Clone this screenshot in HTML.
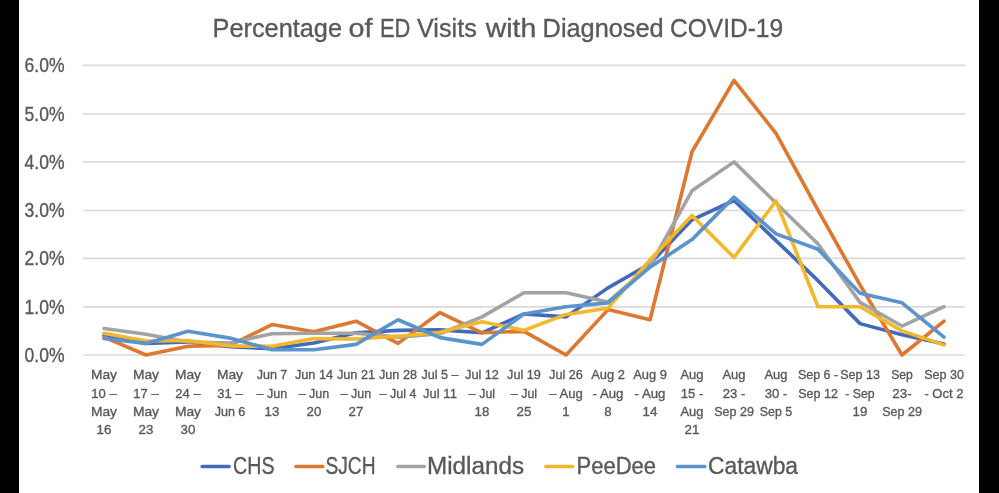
<!DOCTYPE html><html><head><meta charset="utf-8"><style>html,body{margin:0;padding:0;background:#fff;}svg{display:block;will-change:transform;}text{font-family:"Liberation Sans",sans-serif;fill:#595959;stroke:#595959;stroke-width:0.35px;}</style></head><body>
<svg width="999" height="493" viewBox="0 0 999 493">
<rect x="0" y="0" width="999" height="493" fill="#fff"/>
<rect x="0" y="0" width="19" height="493" fill="#000"/>
<rect x="979" y="0" width="20" height="493" fill="#000"/>
<text x="212.50" y="37" font-size="26.7" textLength="129.50" lengthAdjust="spacingAndGlyphs">Percentage</text>
<text x="348.50" y="37" font-size="26.7" textLength="24.00" lengthAdjust="spacingAndGlyphs">of</text>
<text x="379.90" y="37" font-size="26.7" textLength="30.40" lengthAdjust="spacingAndGlyphs">ED</text>
<text x="417.00" y="37" font-size="26.7" textLength="59.80" lengthAdjust="spacingAndGlyphs">Visits</text>
<text x="485.80" y="37" font-size="26.7" textLength="50.50" lengthAdjust="spacingAndGlyphs">with</text>
<text x="542.60" y="37" font-size="26.7" textLength="121.10" lengthAdjust="spacingAndGlyphs">Diagnosed</text>
<text x="670.00" y="37" font-size="26.7" textLength="113.10" lengthAdjust="spacingAndGlyphs">COVID-19</text>
<line x1="83" x2="965" y1="355.00" y2="355.00" stroke="#DADADA" stroke-width="1.7"/>
<text x="64.5" y="361.60" font-size="20" text-anchor="end" textLength="40" lengthAdjust="spacingAndGlyphs" stroke-width="0.3">0.0%</text>
<line x1="83" x2="965" y1="306.90" y2="306.90" stroke="#DADADA" stroke-width="1.7"/>
<text x="64.5" y="313.50" font-size="20" text-anchor="end" textLength="40" lengthAdjust="spacingAndGlyphs" stroke-width="0.3">1.0%</text>
<line x1="83" x2="965" y1="258.40" y2="258.40" stroke="#DADADA" stroke-width="1.7"/>
<text x="64.5" y="265.00" font-size="20" text-anchor="end" textLength="40" lengthAdjust="spacingAndGlyphs" stroke-width="0.3">2.0%</text>
<line x1="83" x2="965" y1="210.50" y2="210.50" stroke="#DADADA" stroke-width="1.7"/>
<text x="64.5" y="217.10" font-size="20" text-anchor="end" textLength="40" lengthAdjust="spacingAndGlyphs" stroke-width="0.3">3.0%</text>
<line x1="83" x2="965" y1="161.90" y2="161.90" stroke="#DADADA" stroke-width="1.7"/>
<text x="64.5" y="168.50" font-size="20" text-anchor="end" textLength="40" lengthAdjust="spacingAndGlyphs" stroke-width="0.3">4.0%</text>
<line x1="83" x2="965" y1="114.00" y2="114.00" stroke="#DADADA" stroke-width="1.7"/>
<text x="64.5" y="120.60" font-size="20" text-anchor="end" textLength="40" lengthAdjust="spacingAndGlyphs" stroke-width="0.3">5.0%</text>
<line x1="83" x2="965" y1="65.30" y2="65.30" stroke="#DADADA" stroke-width="1.7"/>
<text x="64.5" y="71.90" font-size="20" text-anchor="end" textLength="40" lengthAdjust="spacingAndGlyphs" stroke-width="0.3">6.0%</text>
<polyline points="104.00,335.21 146.00,343.41 188.00,341.96 230.00,346.79 272.00,348.72 314.00,342.93 356.00,332.79 398.00,330.38 440.00,329.89 482.00,332.79 524.00,313.96 566.00,316.86 608.00,287.89 650.00,263.75 692.00,219.82 734.00,200.50 776.00,240.58 818.00,280.65 860.00,323.62 902.00,334.72 944.00,343.90" fill="none" stroke="#4169BC" stroke-width="3.6" stroke-linejoin="round" stroke-linecap="round"/>
<polyline points="104.00,337.14 146.00,355.00 188.00,346.31 230.00,345.34 272.00,324.58 314.00,331.83 356.00,321.20 398.00,343.41 440.00,312.51 482.00,332.79 524.00,331.34 566.00,355.00 608.00,309.62 650.00,319.76 692.00,151.74 734.00,80.29 776.00,133.39 818.00,210.16 860.00,284.99 902.00,355.00 944.00,321.20" fill="none" stroke="#DE772F" stroke-width="3.6" stroke-linejoin="round" stroke-linecap="round"/>
<polyline points="104.00,328.45 146.00,334.24 188.00,341.96 230.00,342.93 272.00,333.76 314.00,333.27 356.00,333.27 398.00,337.14 440.00,333.76 482.00,316.86 524.00,292.72 566.00,292.72 608.00,301.89 650.00,265.68 692.00,190.85 734.00,161.88 776.00,202.92 818.00,243.96 860.00,302.37 902.00,326.03 944.00,306.72" fill="none" stroke="#A3A3A3" stroke-width="3.6" stroke-linejoin="round" stroke-linecap="round"/>
<polyline points="104.00,333.27 146.00,341.00 188.00,340.52 230.00,345.83 272.00,346.31 314.00,338.58 356.00,339.07 398.00,336.17 440.00,332.31 482.00,321.69 524.00,330.38 566.00,314.44 608.00,308.17 650.00,259.89 692.00,215.47 734.00,257.47 776.00,200.99 818.00,306.72 860.00,306.72 902.00,330.86 944.00,344.86" fill="none" stroke="#F2B72A" stroke-width="3.6" stroke-linejoin="round" stroke-linecap="round"/>
<polyline points="104.00,338.58 146.00,343.41 188.00,331.34 230.00,338.10 272.00,349.69 314.00,349.69 356.00,344.38 398.00,319.76 440.00,337.62 482.00,344.38 524.00,313.96 566.00,306.72 608.00,302.86 650.00,267.13 692.00,239.61 734.00,197.12 776.00,233.82 818.00,249.27 860.00,293.20 902.00,302.86 944.00,337.14" fill="none" stroke="#5B93CE" stroke-width="3.6" stroke-linejoin="round" stroke-linecap="round"/>
<text x="104.00" y="379.30" font-size="13.5" text-anchor="middle" textLength="26.08" lengthAdjust="spacingAndGlyphs" stroke-width="0.15">May</text>
<text x="104.00" y="397.50" font-size="13.5" text-anchor="middle" textLength="25.40" lengthAdjust="spacingAndGlyphs" stroke-width="0.15">10 –</text>
<text x="104.00" y="415.90" font-size="13.5" text-anchor="middle" textLength="26.08" lengthAdjust="spacingAndGlyphs" stroke-width="0.15">May</text>
<text x="104.00" y="434.10" font-size="13.5" text-anchor="middle" textLength="14.80" lengthAdjust="spacingAndGlyphs" stroke-width="0.15">16</text>
<text x="146.00" y="379.30" font-size="13.5" text-anchor="middle" textLength="26.08" lengthAdjust="spacingAndGlyphs" stroke-width="0.15">May</text>
<text x="146.00" y="397.50" font-size="13.5" text-anchor="middle" textLength="25.40" lengthAdjust="spacingAndGlyphs" stroke-width="0.15">17 –</text>
<text x="146.00" y="415.90" font-size="13.5" text-anchor="middle" textLength="26.08" lengthAdjust="spacingAndGlyphs" stroke-width="0.15">May</text>
<text x="146.00" y="434.10" font-size="13.5" text-anchor="middle" textLength="14.80" lengthAdjust="spacingAndGlyphs" stroke-width="0.15">23</text>
<text x="188.00" y="379.30" font-size="13.5" text-anchor="middle" textLength="26.08" lengthAdjust="spacingAndGlyphs" stroke-width="0.15">May</text>
<text x="188.00" y="397.50" font-size="13.5" text-anchor="middle" textLength="25.40" lengthAdjust="spacingAndGlyphs" stroke-width="0.15">24 –</text>
<text x="188.00" y="415.90" font-size="13.5" text-anchor="middle" textLength="26.08" lengthAdjust="spacingAndGlyphs" stroke-width="0.15">May</text>
<text x="188.00" y="434.10" font-size="13.5" text-anchor="middle" textLength="14.80" lengthAdjust="spacingAndGlyphs" stroke-width="0.15">30</text>
<text x="230.00" y="379.30" font-size="13.5" text-anchor="middle" textLength="26.08" lengthAdjust="spacingAndGlyphs" stroke-width="0.15">May</text>
<text x="230.00" y="397.50" font-size="13.5" text-anchor="middle" textLength="25.40" lengthAdjust="spacingAndGlyphs" stroke-width="0.15">31 –</text>
<text x="230.00" y="415.90" font-size="13.5" text-anchor="middle" textLength="30.70" lengthAdjust="spacingAndGlyphs" stroke-width="0.15">Jun 6</text>
<text x="272.00" y="379.30" font-size="13.5" text-anchor="middle" textLength="30.70" lengthAdjust="spacingAndGlyphs" stroke-width="0.15">Jun 7</text>
<text x="272.00" y="397.50" font-size="13.5" text-anchor="middle" textLength="30.60" lengthAdjust="spacingAndGlyphs" stroke-width="0.15">– Jun</text>
<text x="272.00" y="415.90" font-size="13.5" text-anchor="middle" textLength="14.80" lengthAdjust="spacingAndGlyphs" stroke-width="0.15">13</text>
<text x="314.00" y="379.30" font-size="13.5" text-anchor="middle" textLength="38.10" lengthAdjust="spacingAndGlyphs" stroke-width="0.15">Jun 14</text>
<text x="314.00" y="397.50" font-size="13.5" text-anchor="middle" textLength="30.60" lengthAdjust="spacingAndGlyphs" stroke-width="0.15">– Jun</text>
<text x="314.00" y="415.90" font-size="13.5" text-anchor="middle" textLength="14.80" lengthAdjust="spacingAndGlyphs" stroke-width="0.15">20</text>
<text x="356.00" y="379.30" font-size="13.5" text-anchor="middle" textLength="38.10" lengthAdjust="spacingAndGlyphs" stroke-width="0.15">Jun 21</text>
<text x="356.00" y="397.50" font-size="13.5" text-anchor="middle" textLength="30.60" lengthAdjust="spacingAndGlyphs" stroke-width="0.15">– Jun</text>
<text x="356.00" y="415.90" font-size="13.5" text-anchor="middle" textLength="14.80" lengthAdjust="spacingAndGlyphs" stroke-width="0.15">27</text>
<text x="398.00" y="379.30" font-size="13.5" text-anchor="middle" textLength="38.10" lengthAdjust="spacingAndGlyphs" stroke-width="0.15">Jun 28</text>
<text x="398.00" y="397.50" font-size="13.5" text-anchor="middle" textLength="36.98" lengthAdjust="spacingAndGlyphs" stroke-width="0.15">– Jul 4</text>
<text x="440.00" y="379.30" font-size="13.5" text-anchor="middle" textLength="36.98" lengthAdjust="spacingAndGlyphs" stroke-width="0.15">Jul 5 –</text>
<text x="440.00" y="397.50" font-size="13.5" text-anchor="middle" textLength="33.78" lengthAdjust="spacingAndGlyphs" stroke-width="0.15">Jul 11</text>
<text x="482.00" y="379.30" font-size="13.5" text-anchor="middle" textLength="33.78" lengthAdjust="spacingAndGlyphs" stroke-width="0.15">Jul 12</text>
<text x="482.00" y="397.50" font-size="13.5" text-anchor="middle" textLength="26.28" lengthAdjust="spacingAndGlyphs" stroke-width="0.15">– Jul</text>
<text x="482.00" y="415.90" font-size="13.5" text-anchor="middle" textLength="14.80" lengthAdjust="spacingAndGlyphs" stroke-width="0.15">18</text>
<text x="524.00" y="379.30" font-size="13.5" text-anchor="middle" textLength="33.78" lengthAdjust="spacingAndGlyphs" stroke-width="0.15">Jul 19</text>
<text x="524.00" y="397.50" font-size="13.5" text-anchor="middle" textLength="26.28" lengthAdjust="spacingAndGlyphs" stroke-width="0.15">– Jul</text>
<text x="524.00" y="415.90" font-size="13.5" text-anchor="middle" textLength="14.80" lengthAdjust="spacingAndGlyphs" stroke-width="0.15">25</text>
<text x="566.00" y="379.30" font-size="13.5" text-anchor="middle" textLength="33.78" lengthAdjust="spacingAndGlyphs" stroke-width="0.15">Jul 26</text>
<text x="566.00" y="397.50" font-size="13.5" text-anchor="middle" textLength="33.59" lengthAdjust="spacingAndGlyphs" stroke-width="0.15">– Aug</text>
<text x="566.00" y="415.90" font-size="13.5" text-anchor="middle" textLength="7.40" lengthAdjust="spacingAndGlyphs" stroke-width="0.15">1</text>
<text x="608.00" y="379.30" font-size="13.5" text-anchor="middle" textLength="33.69" lengthAdjust="spacingAndGlyphs" stroke-width="0.15">Aug 2</text>
<text x="608.00" y="397.50" font-size="13.5" text-anchor="middle" textLength="30.76" lengthAdjust="spacingAndGlyphs" stroke-width="0.15">- Aug</text>
<text x="608.00" y="415.90" font-size="13.5" text-anchor="middle" textLength="7.40" lengthAdjust="spacingAndGlyphs" stroke-width="0.15">8</text>
<text x="650.00" y="379.30" font-size="13.5" text-anchor="middle" textLength="33.69" lengthAdjust="spacingAndGlyphs" stroke-width="0.15">Aug 9</text>
<text x="650.00" y="397.50" font-size="13.5" text-anchor="middle" textLength="30.76" lengthAdjust="spacingAndGlyphs" stroke-width="0.15">- Aug</text>
<text x="650.00" y="415.90" font-size="13.5" text-anchor="middle" textLength="14.80" lengthAdjust="spacingAndGlyphs" stroke-width="0.15">14</text>
<text x="692.00" y="379.30" font-size="13.5" text-anchor="middle" textLength="22.99" lengthAdjust="spacingAndGlyphs" stroke-width="0.15">Aug</text>
<text x="692.00" y="397.50" font-size="13.5" text-anchor="middle" textLength="22.57" lengthAdjust="spacingAndGlyphs" stroke-width="0.15">15 -</text>
<text x="692.00" y="415.90" font-size="13.5" text-anchor="middle" textLength="22.99" lengthAdjust="spacingAndGlyphs" stroke-width="0.15">Aug</text>
<text x="692.00" y="434.10" font-size="13.5" text-anchor="middle" textLength="14.80" lengthAdjust="spacingAndGlyphs" stroke-width="0.15">21</text>
<text x="734.00" y="379.30" font-size="13.5" text-anchor="middle" textLength="22.99" lengthAdjust="spacingAndGlyphs" stroke-width="0.15">Aug</text>
<text x="734.00" y="397.50" font-size="13.5" text-anchor="middle" textLength="22.57" lengthAdjust="spacingAndGlyphs" stroke-width="0.15">23 -</text>
<text x="734.00" y="415.90" font-size="13.5" text-anchor="middle" textLength="39.74" lengthAdjust="spacingAndGlyphs" stroke-width="0.15">Sep 29</text>
<text x="776.00" y="379.30" font-size="13.5" text-anchor="middle" textLength="22.99" lengthAdjust="spacingAndGlyphs" stroke-width="0.15">Aug</text>
<text x="776.00" y="397.50" font-size="13.5" text-anchor="middle" textLength="22.57" lengthAdjust="spacingAndGlyphs" stroke-width="0.15">30 -</text>
<text x="776.00" y="415.90" font-size="13.5" text-anchor="middle" textLength="32.34" lengthAdjust="spacingAndGlyphs" stroke-width="0.15">Sep 5</text>
<text x="818.00" y="379.30" font-size="13.5" text-anchor="middle" textLength="40.11" lengthAdjust="spacingAndGlyphs" stroke-width="0.15">Sep 6 -</text>
<text x="818.00" y="397.50" font-size="13.5" text-anchor="middle" textLength="39.74" lengthAdjust="spacingAndGlyphs" stroke-width="0.15">Sep 12</text>
<text x="860.00" y="379.30" font-size="13.5" text-anchor="middle" textLength="39.74" lengthAdjust="spacingAndGlyphs" stroke-width="0.15">Sep 13</text>
<text x="860.00" y="397.50" font-size="13.5" text-anchor="middle" textLength="29.41" lengthAdjust="spacingAndGlyphs" stroke-width="0.15">- Sep</text>
<text x="860.00" y="415.90" font-size="13.5" text-anchor="middle" textLength="14.80" lengthAdjust="spacingAndGlyphs" stroke-width="0.15">19</text>
<text x="902.00" y="379.30" font-size="13.5" text-anchor="middle" textLength="21.64" lengthAdjust="spacingAndGlyphs" stroke-width="0.15">Sep</text>
<text x="902.00" y="397.50" font-size="13.5" text-anchor="middle" textLength="19.27" lengthAdjust="spacingAndGlyphs" stroke-width="0.15">23-</text>
<text x="902.00" y="415.90" font-size="13.5" text-anchor="middle" textLength="39.74" lengthAdjust="spacingAndGlyphs" stroke-width="0.15">Sep 29</text>
<text x="944.00" y="379.30" font-size="13.5" text-anchor="middle" textLength="39.74" lengthAdjust="spacingAndGlyphs" stroke-width="0.15">Sep 30</text>
<text x="944.00" y="397.50" font-size="13.5" text-anchor="middle" textLength="39.20" lengthAdjust="spacingAndGlyphs" stroke-width="0.15">- Oct 2</text>
<line x1="202.20" x2="229.10" y1="466.5" y2="466.5" stroke="#4169BC" stroke-width="3.6" stroke-linecap="round"/>
<text x="233.00" y="473.8" font-size="23" textLength="41.50" lengthAdjust="spacingAndGlyphs" stroke-width="0.55">CHS</text>
<line x1="296.00" x2="322.80" y1="466.5" y2="466.5" stroke="#DE772F" stroke-width="3.6" stroke-linecap="round"/>
<text x="325.50" y="473.8" font-size="23" textLength="50.00" lengthAdjust="spacingAndGlyphs" stroke-width="0.55">SJCH</text>
<line x1="397.80" x2="424.30" y1="466.5" y2="466.5" stroke="#A3A3A3" stroke-width="3.6" stroke-linecap="round"/>
<text x="427.00" y="473.8" font-size="23" textLength="97.00" lengthAdjust="spacingAndGlyphs" stroke-width="0.55">Midlands</text>
<line x1="545.90" x2="572.60" y1="466.5" y2="466.5" stroke="#F2B72A" stroke-width="3.6" stroke-linecap="round"/>
<text x="576.50" y="473.8" font-size="23" textLength="79.50" lengthAdjust="spacingAndGlyphs" stroke-width="0.55">PeeDee</text>
<line x1="677.50" x2="704.80" y1="466.5" y2="466.5" stroke="#5B93CE" stroke-width="3.6" stroke-linecap="round"/>
<text x="708.00" y="473.8" font-size="23" textLength="90.00" lengthAdjust="spacingAndGlyphs" stroke-width="0.55">Catawba</text>
</svg></body></html>
